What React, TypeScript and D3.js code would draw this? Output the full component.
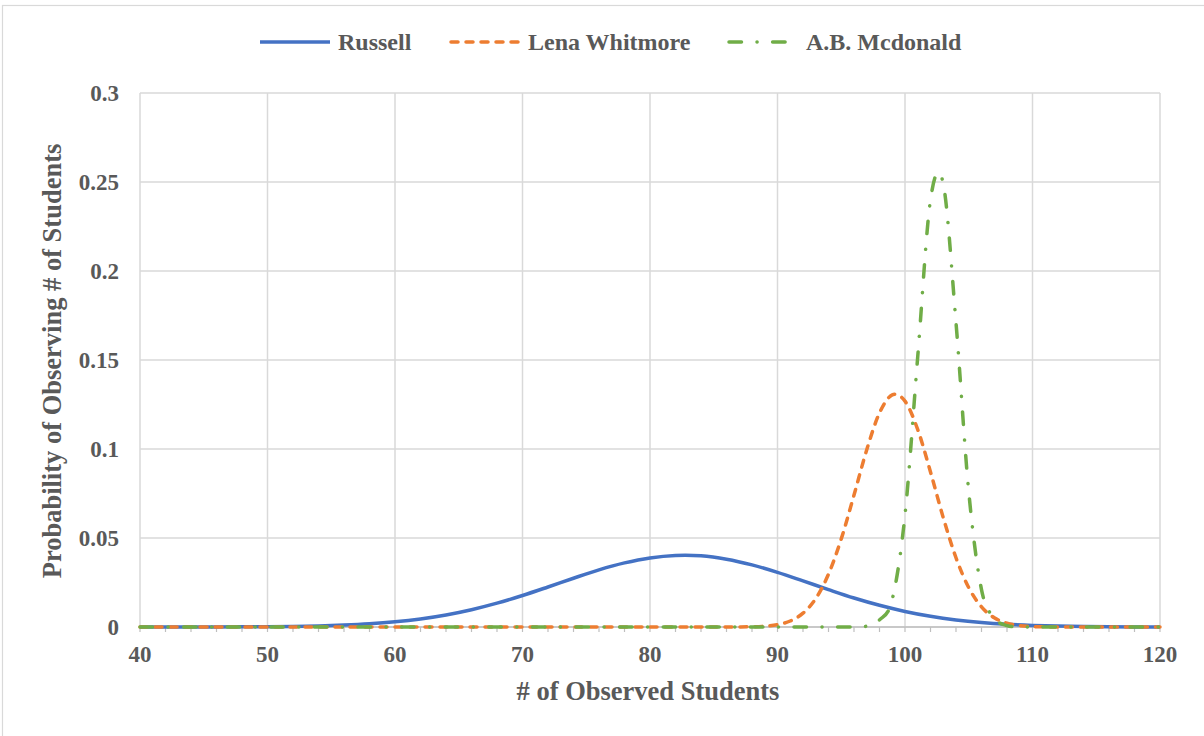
import React from "react";
import * as d3 from "d3";

const seriesNames = ["Russell", "Lena Whitmore", "A.B. Mcdonald"];
const colors = ["#4472C4", "#ED7D31", "#70AD47"];

const xTicks = [40, 50, 60, 70, 80, 90, 100, 110, 120];
const yTicks = [0, 0.05, 0.1, 0.15, 0.2, 0.25, 0.3];
const yTickLabels = ["0", "0.05", "0.1", "0.15", "0.2", "0.25", "0.3"];

const russellX = [40, 42, 44, 46, 48, 50, 52, 54, 56, 58, 60, 62, 64, 66, 68, 70, 72, 74, 76, 78, 80,
  82, 84, 86, 88, 90, 92, 94, 96, 98, 100, 102, 104, 106, 108, 110, 112, 114, 116, 118, 120];
const russellY = [0.000004, 0.0000086, 0.000019, 0.000042, 0.000087, 0.00017, 0.00033, 0.0006, 0.00106, 0.00179, 0.00291,
  0.00453, 0.00677, 0.00971, 0.01338, 0.01769, 0.02247, 0.0274, 0.0321, 0.036, 0.0388,
  0.0402, 0.04, 0.0381, 0.0349, 0.0307, 0.0259, 0.021, 0.0163, 0.0122, 0.00875,
  0.00603, 0.00398, 0.00253, 0.00154, 0.0009, 0.0005, 0.00027, 0.00014, 0.00007, 0.00003];

const studentsX = [
  40, 41, 42, 43, 44, 45, 46, 47, 48, 49,
  50, 51, 52, 53, 54, 55, 56, 57, 58, 59,
  60, 61, 62, 63, 64, 65, 66, 67, 68, 69,
  70, 71, 72, 73, 74, 75, 76, 77, 78, 79,
  80, 81, 82, 83, 84, 85, 86, 87, 88, 89,
  90, 91, 92, 93, 94, 95, 96, 97, 98, 99,
  100, 101, 102, 103, 104, 105, 106, 107, 108, 109,
  110, 111, 112, 113, 114, 115, 116, 117, 118, 119,
  120];
const lenaY = [
  0, 0, 0, 0, 0, 0, 0, 0, 0, 0,
  0, 0, 0, 0, 0, 0, 0, 0, 0, 0,
  0, 0, 0, 0, 0, 0, 0, 0, 0, 0,
  0, 0, 0, 0, 0, 0, 0, 0, 0, 0,
  0, 0, 0, 0, 0, 0, 0.00001, 0.00004, 0.00015, 0.00046,
  0.00132, 0.00337, 0.00776, 0.016, 0.0297, 0.0495, 0.0741, 0.0996, 0.1203, 0.1304,
  0.1269, 0.1109, 0.0871, 0.0614, 0.0389, 0.0221, 0.0113, 0.00518, 0.00213, 0.00079,
  0.00026, 0.00008, 0.00002, 0, 0, 0, 0, 0, 0, 0,
  0];
const mcdonaldY = [
  0, 0, 0, 0, 0, 0, 0, 0, 0, 0,
  0, 0, 0, 0, 0, 0, 0, 0, 0, 0,
  0, 0, 0, 0, 0, 0, 0, 0, 0, 0,
  0, 0, 0, 0, 0, 0, 0, 0, 0, 0,
  0, 0, 0, 0, 0, 0, 0, 0, 0, 0,
  0, 0, 0, 0, 0, 0, 0.00003, 0.0005, 0.004, 0.0155,
  0.063, 0.152, 0.24, 0.249, 0.171, 0.076, 0.021, 0.005, 0.0008, 0.0001,
  0, 0, 0, 0, 0, 0, 0, 0, 0, 0,
  0];

const W = 1204;
const H = 736;
const plot = { left: 140, right: 1160, top: 93, bottom: 627 };
const font = "'Liberation Serif', 'Times New Roman', serif";
const textColor = "#595959";
const gridColor = "#d9d9d9";

const dashes = ["", "7,8", "12.5,15.5,0.1,15.5"];

export default function App() {
  const x = d3.scaleLinear().domain([40, 120]).range([plot.left, plot.right]);
  const y = d3.scaleLinear().domain([0, 0.3]).range([plot.bottom, plot.top]);
  const line = d3
    .line<[number, number]>()
    .x((d) => x(d[0]))
    .y((d) => y(d[1]))
    .curve(d3.curveCardinal.tension(0));

  const series = [
    russellX.map((v, i) => [v, russellY[i]] as [number, number]),
    studentsX.map((v, i) => [v, lenaY[i]] as [number, number]),
    studentsX.map((v, i) => [v, mcdonaldY[i]] as [number, number]),
  ];

  const minorTicks = d3.range(40, 121, 2);

  const legendLines = [
    { x0: 260, x1: 330, tx: 338 },
    { x0: 451, x1: 521, tx: 528 },
    { x0: 729, x1: 799, tx: 806 },
  ];
  const legendY = 42;

  return (
    <svg
      width={W}
      height={H}
      style={{ position: "absolute", left: 0, top: 0, background: "#fff" }}
      fontFamily={font}
    >
      <rect x={0} y={0} width={W} height={H} fill="#fff" />
      <rect x={2.5} y={5.5} width={W + 10} height={H + 10} fill="none" stroke={gridColor} strokeWidth={1.2} />

      {xTicks.map((t) => (
        <line key={"gx" + t} x1={x(t)} x2={x(t)} y1={plot.top} y2={plot.bottom} stroke={gridColor} strokeWidth={1.5} />
      ))}
      {yTicks.map((t) => (
        <line key={"gy" + t} x1={plot.left} x2={plot.right} y1={y(t)} y2={y(t)} stroke={gridColor} strokeWidth={1.5} />
      ))}

      <line x1={plot.left} x2={plot.right} y1={plot.bottom} y2={plot.bottom} stroke="#bfbfbf" strokeWidth={1.5} />
      {minorTicks.map((t) => (
        <line key={"mt" + t} x1={x(t)} x2={x(t)} y1={plot.bottom} y2={plot.bottom + 5} stroke="#bfbfbf" strokeWidth={1.2} />
      ))}

      {yTicks.map((t, i) => (
        <text key={"yl" + t} x={119} y={y(t)} dy="0.35em" textAnchor="end" fontSize={23} fontWeight="bold" fill={textColor}>
          {yTickLabels[i]}
        </text>
      ))}
      {xTicks.map((t) => (
        <text key={"xl" + t} x={x(t)} y={662} textAnchor="middle" fontSize={23} fontWeight="bold" fill={textColor}>
          {t}
        </text>
      ))}

      <text x={648} y={700} textAnchor="middle" fontSize={26.5} fontWeight="bold" fill={textColor}>
        # of Observed Students
      </text>
      <text
        transform={`translate(61,361) rotate(-90)`}
        textAnchor="middle"
        fontSize={26.5}
        fontWeight="bold"
        fill={textColor}
      >
        Probability of Observing # of Students
      </text>

      {series.map((s, i) => (
        <path
          key={"s" + i}
          d={line(s) || ""}
          fill="none"
          stroke={colors[i]}
          strokeWidth={3.5}
          strokeDasharray={dashes[i] || undefined}
          strokeLinecap={i === 0 ? "butt" : "round"}
        />
      ))}

      {seriesNames.map((name, i) => (
        <g key={"lg" + i}>
          <line
            x1={legendLines[i].x0}
            x2={legendLines[i].x1}
            y1={legendY}
            y2={legendY}
            stroke={colors[i]}
            strokeWidth={3.5}
            strokeDasharray={dashes[i] || undefined}
            strokeLinecap={i === 0 ? "butt" : "round"}
          />
          <text x={legendLines[i].tx} y={legendY} dy="0.35em" fontSize={24} fontWeight="bold" fill={textColor}>
            {name}
          </text>
        </g>
      ))}
    </svg>
  );
}
